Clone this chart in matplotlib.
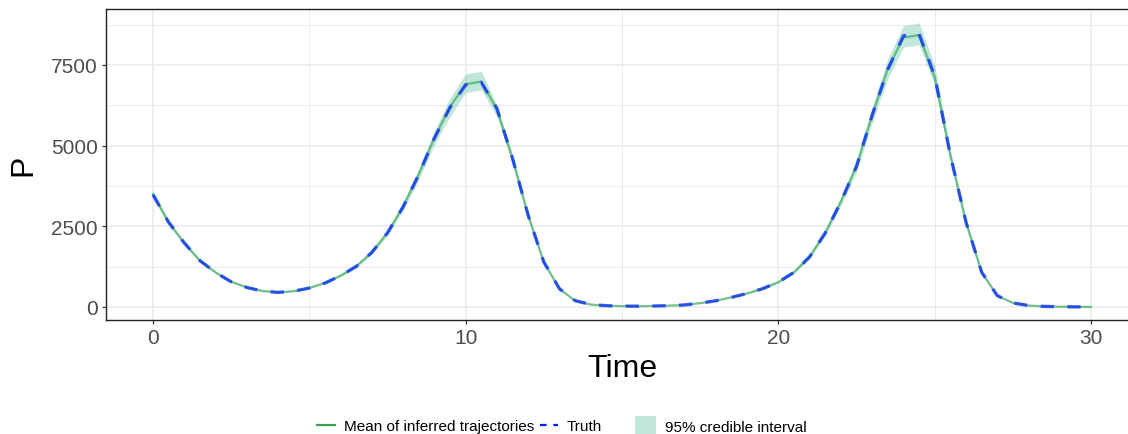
import numpy as np
import matplotlib
matplotlib.use("Agg")
import matplotlib.pyplot as plt
from matplotlib.lines import Line2D
from matplotlib.patches import Patch

plt.rcParams['font.family'] = ['Liberation Sans', 'DejaVu Sans']

# data (time step 0.5)
time = np.arange(0, 30.5, 0.5)
mean_traj = [3500, 2623, 1983, 1435, 1074, 785, 609, 496, 454, 490,
             589, 744, 971, 1260, 1694, 2300, 3110, 4110, 5240, 6200,
             6900, 6980, 6130, 4590, 2830, 1390, 560, 195, 75, 40,
             28, 25, 30, 42, 65, 120, 195, 300, 420, 570,
             770, 1080, 1560, 2300, 3270, 4370, 5950, 7380, 8350, 8420,
             7120, 4690, 2620, 1075, 350, 125, 45, 18, 8, 4, 2]
truth = [3480, 2630, 1990, 1440, 1070, 782, 605, 494, 452, 488,
         586, 740, 968, 1255, 1690, 2295, 3100, 4100, 5225, 6180,
         6880, 6960, 6150, 4600, 2840, 1395, 565, 198, 76, 40,
         27, 25, 30, 41, 64, 118, 193, 298, 418, 568,
         768, 1075, 1555, 2295, 3260, 4360, 5940, 7360, 8400, 8460,
         7150, 4700, 2630, 1080, 352, 126, 46, 18, 8, 4, 2]
ci_lower = [3380, 2560, 1940, 1405, 1050, 768, 596, 485, 443, 478,
            573, 722, 940, 1218, 1635, 2215, 2995, 3950, 5030, 5900,
            6650, 6720, 5900, 4440, 2750, 1350, 543, 188, 72, 38,
            27, 24, 29, 40, 62, 115, 187, 288, 403, 547,
            739, 1037, 1498, 2210, 3140, 4190, 5710, 7080, 8050, 8120,
            6860, 4520, 2530, 1040, 338, 120, 43, 17, 7, 3, 1]
ci_upper = [3620, 2690, 2030, 1465, 1100, 803, 623, 508, 466, 503,
            606, 767, 1003, 1303, 1755, 2390, 3235, 4275, 5450, 6480,
            7220, 7300, 6260, 4720, 2910, 1430, 578, 202, 78, 42,
            29, 26, 31, 44, 68, 125, 203, 312, 437, 593,
            801, 1123, 1622, 2390, 3400, 4550, 6190, 7690, 8720, 8800,
            7480, 4880, 2720, 1115, 362, 130, 47, 19, 9, 5, 3]

x_ticks = [0, 10, 20, 30]
y_ticks = [0, 2500, 5000, 7500]

W, H = 1128, 435
fig = plt.figure(figsize=(W / 100, H / 100), dpi=100)
ax = fig.add_axes([106 / W, (H - 321) / H, (1138 - 106) / W, (321 - 10) / H])

band_col = '#66c2a5'
mean_col = '#31a354'
truth_col = '#0022ff'

ax.fill_between(time, ci_lower, ci_upper, color=band_col, alpha=0.4, lw=0, zorder=2)
ax.plot(time, mean_traj, color=mean_col, alpha=0.65, lw=1.6, zorder=3)
ax.plot(time, truth, color=truth_col, alpha=0.7, lw=2.4, ls=(0, (4, 4)), zorder=4)

ax.set_xlim(-1.5, 31.5)
ax.set_ylim(-403, 9231)
ax.set_xticks(x_ticks)
ax.set_yticks(y_ticks)
ax.set_xticks([5, 15, 25], minor=True)
ax.set_yticks([1250, 3750, 6250, 8750], minor=True)
ax.grid(which='major', color='#ebebeb', lw=1.2, zorder=0)
ax.grid(which='minor', color='#ebebeb', lw=0.7, zorder=0)
ax.set_axisbelow(True)
ax.tick_params(which='minor', length=0)
ax.tick_params(which='major', length=3, width=0.9, color='#333333',
               labelsize=15, labelcolor='#4d4d4d', pad=3)
for s in ax.spines.values():
    s.set_color('#222222')
    s.set_linewidth(1.0)

ax.set_xlabel('Time', fontsize=23, labelpad=4)
ax.set_ylabel('P', fontsize=23, labelpad=9)

fs = 11
ly = (H - 427) / H
fig.legend(handles=[Line2D([], [], color=mean_col, lw=1.6)],
           labels=['Mean of inferred trajectories'],
           loc='center left', bbox_to_anchor=(317 / W, ly), frameon=False,
           fontsize=fs, handlelength=1.2, handletextpad=0.55,
           borderpad=0, borderaxespad=0)
fig.legend(handles=[Line2D([], [], color=truth_col, lw=1.6, ls=(0, (3, 3)))],
           labels=['Truth'],
           loc='center left', bbox_to_anchor=(540 / W, ly), frameon=False,
           fontsize=fs, handlelength=1.15, handletextpad=0.6,
           borderpad=0, borderaxespad=0)
fig.legend(handles=[Patch(facecolor=band_col, alpha=0.4, lw=0)],
           labels=['95% credible interval'],
           loc='center left', bbox_to_anchor=(635 / W, ly), frameon=False,
           fontsize=fs, handlelength=1.4, handleheight=1.6, handletextpad=0.55,
           borderpad=0, borderaxespad=0)

fig.savefig('out.png', dpi=100)
